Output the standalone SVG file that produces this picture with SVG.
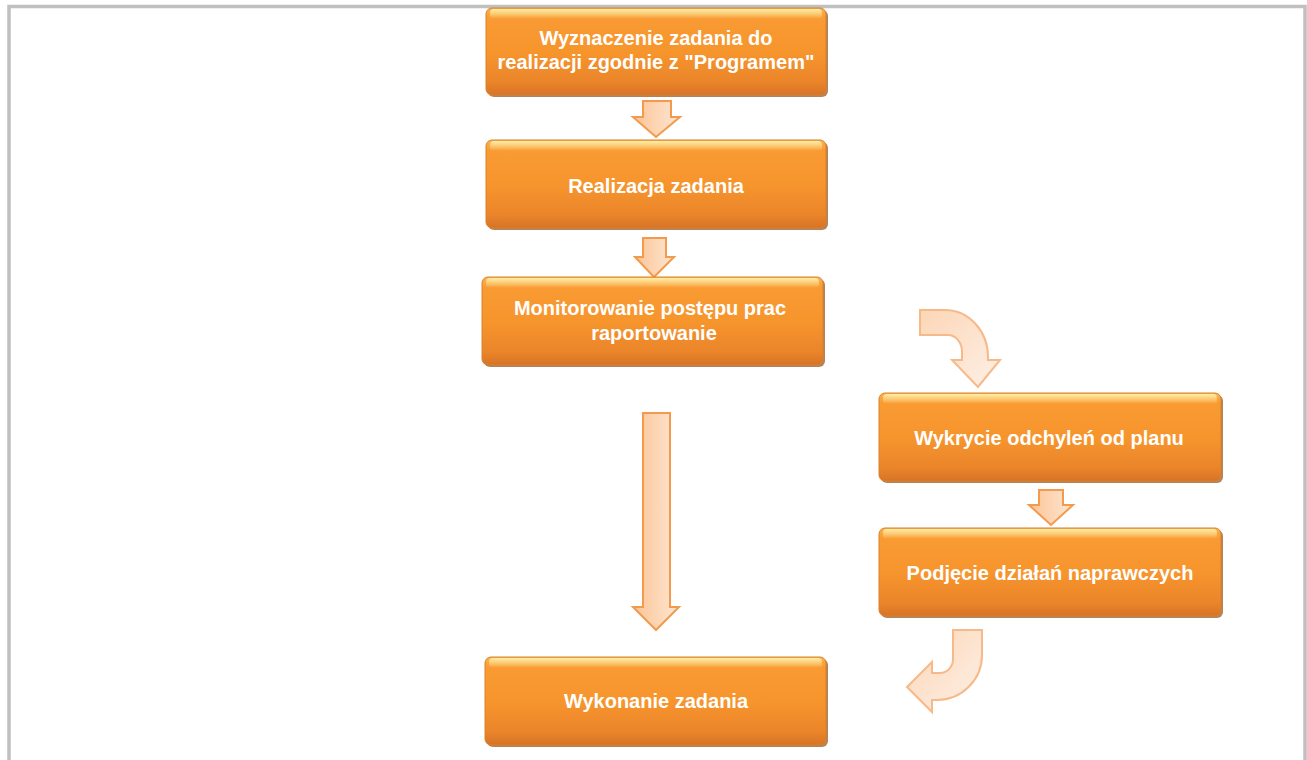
<svg xmlns="http://www.w3.org/2000/svg" width="1307" height="760" viewBox="0 0 1307 760">
<style>
.box{fill:url(#gBox);stroke:#d9822b;stroke-width:1}
.shadow{fill:#9c5a22;opacity:0.75}
.hl{fill:url(#gHl)}
.lbl{font-family:"Liberation Sans",Arial,sans-serif;font-size:20px;font-weight:bold;fill:#ffffff;text-anchor:middle}
.arr{fill:url(#gArr);stroke:#f39a4c;stroke-width:2;stroke-linejoin:miter}
.carr{fill:url(#gCArr);stroke:#f7b988;stroke-width:2;stroke-linejoin:miter}
</style>
<defs>
<linearGradient id="gBox" x1="0" y1="0" x2="0" y2="1">
<stop offset="0" stop-color="#fbb34e"/>
<stop offset="0.12" stop-color="#f99a32"/>
<stop offset="0.5" stop-color="#f7952d"/>
<stop offset="0.85" stop-color="#ea852a"/>
<stop offset="1" stop-color="#d77326"/>
</linearGradient>
<linearGradient id="gHl" x1="0" y1="0" x2="0" y2="1">
<stop offset="0" stop-color="#fff3b0" stop-opacity="0.9"/>
<stop offset="1" stop-color="#fff3b0" stop-opacity="0"/>
</linearGradient>
<linearGradient id="gArr" x1="0" y1="0" x2="1" y2="0">
<stop offset="0" stop-color="#fcc496"/>
<stop offset="1" stop-color="#fde6d2"/>
</linearGradient>
<linearGradient id="gCArr" x1="0" y1="0" x2="1" y2="1">
<stop offset="0" stop-color="#fcd6b6"/>
<stop offset="1" stop-color="#fdf0e6"/>
</linearGradient>
</defs>
<rect x="9" y="6.5" width="1296" height="800" fill="none" stroke="#c0c0c0" stroke-width="3.5"/>
<g id="connectors">
<path class="arr" d="M643,101 L671,101 L671,117 L680,117 L656,137 L633,117 L643,117 Z"/>
<path class="arr" d="M643,238 L666,238 L666,257 L674,257 L654,277 L635,257 L643,257 Z"/>
<path class="arr" d="M643,413 L670,413 L670,607 L679,607 L656,630 L633,607 L643,607 Z"/>
<path class="arr" d="M1039,490 L1063,490 L1063,505 L1073,505 L1051,525 L1029,505 L1039,505 Z"/>
<path class="carr" d="M920,310 L945,310 A43,47 0 0 1 988,357 L988,360 L1000,360 L978,387 L952,360 L962,360 L962,352 A14,17 0 0 0 948,335 L920,335 Z"/>
<path class="carr" d="M953,630 L982,630 L982,655 A45,45 0 0 1 937,700 L932,700 L932,712 L907,687 L932,662 L932,673 L940,673 A13,14 0 0 0 953,659 Z"/>
</g>
<g id="n1">
<rect class="shadow" x="488" y="10" width="340" height="87" rx="6"/>
<rect class="box" x="486" y="8" width="340" height="87" rx="6"/>
<rect class="hl" x="490" y="9" width="332" height="10" rx="4"/>
<text class="lbl" x="656" y="45">Wyznaczenie zadania do</text>
<text class="lbl" x="656" y="69">realizacji zgodnie z "Programem"</text>
</g>
<g id="n2">
<rect class="shadow" x="488" y="142" width="340" height="88" rx="6"/>
<rect class="box" x="486" y="140" width="340" height="88" rx="6"/>
<rect class="hl" x="490" y="141" width="332" height="10" rx="4"/>
<text class="lbl" x="656" y="193">Realizacja zadania</text>
</g>
<g id="n3">
<rect class="shadow" x="484" y="279" width="341" height="88" rx="6"/>
<rect class="box" x="482" y="277" width="341" height="88" rx="6"/>
<rect class="hl" x="486" y="278" width="333" height="10" rx="4"/>
<text class="lbl" x="650" y="315">Monitorowanie postępu prac</text>
<text class="lbl" x="654" y="340">raportowanie</text>
</g>
<g id="n4">
<rect class="shadow" x="881" y="395" width="342" height="88" rx="6"/>
<rect class="box" x="879" y="393" width="342" height="88" rx="6"/>
<rect class="hl" x="883" y="394" width="334" height="10" rx="4"/>
<text class="lbl" x="1049" y="445">Wykrycie odchyleń od planu</text>
</g>
<g id="n5">
<rect class="shadow" x="881" y="530" width="342" height="88" rx="6"/>
<rect class="box" x="879" y="528" width="342" height="88" rx="6"/>
<rect class="hl" x="883" y="529" width="334" height="10" rx="4"/>
<text class="lbl" x="1050" y="580">Podjęcie działań naprawczych</text>
</g>
<g id="n6">
<rect class="shadow" x="487" y="659" width="341" height="88" rx="6"/>
<rect class="box" x="485" y="657" width="341" height="88" rx="6"/>
<rect class="hl" x="489" y="658" width="333" height="10" rx="4"/>
<text class="lbl" x="656" y="708">Wykonanie zadania</text>
</g>
</svg>
